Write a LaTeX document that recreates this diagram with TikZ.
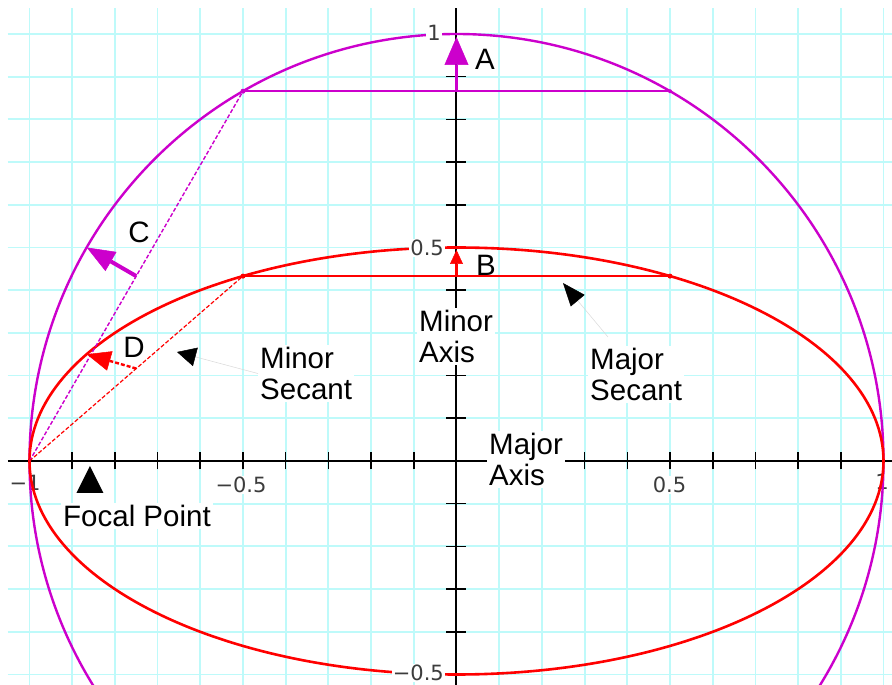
\documentclass[tikz,border=0pt]{standalone}
\usepackage{fontspec}
\setmainfont{Liberation Sans}
\newfontfamily\tickfont{DejaVu Sans}
\usetikzlibrary{arrows.meta}
\definecolor{mag}{RGB}{204,0,204}
\definecolor{gridc}{RGB}{190,250,250}
\definecolor{tickgray}{RGB}{60,60,60}
\begin{document}
\begin{tikzpicture}[x=427pt,y=427pt,
  gridline/.style={draw=gridc,line width=1.8pt},
  axisline/.style={draw=black,line width=2pt},
  tickmark/.style={draw=black,line width=1.6pt},
  ticklab/.style={font=\tickfont\fontsize{21}{21}\selectfont,text=tickgray,fill=white,inner sep=1pt},
  lab/.style={font=\fontsize{29.5}{31}\selectfont,fill=white,inner sep=2pt,align=left},
  letter/.style={font=\fontsize{29.5}{31}\selectfont,inner sep=0pt},
  curvem/.style={draw=mag,line width=2.4pt},
  curver/.style={draw=red,line width=2.6pt},
  chordm/.style={draw=mag,line width=2pt},
  chordr/.style={draw=red,line width=2pt},
  dashm/.style={draw=mag,line width=1.4pt,dash pattern=on 4pt off 2pt},
  dashr/.style={draw=red,line width=1.2pt,dash pattern=on 4pt off 2pt},
  pointer/.style={draw=gray!30,line width=0.5pt}]
\useasboundingbox (-456.5pt,-224pt) rectangle (435.5pt,461pt);
\clip (-456.5pt,-224pt) rectangle (435.5pt,461pt);
\fill[white] (-456.5pt,-224pt) rectangle (435.5pt,461pt);
% grid
\draw[gridline,xstep=42.7pt,ystep=42.7pt] (-448.5pt,-224pt) grid (435.5pt,453pt);
% axes
\draw[axisline] (-448.5pt,0pt) -- (435.5pt,0pt);
\draw[axisline] (0pt,-224pt) -- (0pt,453pt);
\foreach \i in {-10,...,10} {\draw[tickmark] (\i*42.7pt,-8.5pt) -- (\i*42.7pt,8.5pt);}
\foreach \j in {-5,...,10} {\draw[tickmark] (-10pt,\j*42.7pt) -- (10pt,\j*42.7pt);}
% x-axis end labels (under curves)
\node[ticklab] (txm1) at (-431.5pt,-22pt) {−1};
\node[ticklab] (txp1) at (425.5pt,-21pt) {1};
% points
\coordinate (L) at (-1,0);
\coordinate (P1) at (-0.5,0.8660);
\coordinate (P2) at (0.5,0.8660);
\coordinate (Q1) at (-0.5,0.4330);
\coordinate (Q2) at (0.5,0.4330);
\coordinate (Mc) at (-0.75,0.4330);
\coordinate (Cc) at (-0.8660,0.5);
\coordinate (Md) at (-0.75,0.2165);
\coordinate (Dd) at (-0.8660,0.25);
\coordinate (Atail) at (0,0.8660);
\coordinate (Atip) at (0pt,424pt);
\coordinate (Btail) at (0,0.4330);
\coordinate (Btip) at (0pt,211pt);
% curves
\draw[curvem] (0,0) circle[radius=427pt];
\draw[curver] (0,0) ellipse[x radius=427pt,y radius=213.5pt];
\draw[chordm] (P1) -- (P2);
\draw[chordr] (Q1) -- (Q2);
\draw[dashm] (L) -- (P1);
\draw[dashr] (L) -- (Q1);
\fill[mag] (P1) circle[radius=2.5pt];
\fill[mag] (P2) circle[radius=2pt];
\fill[red] (Q1) circle[radius=2.5pt];
\fill[red] (Q2) circle[radius=2.5pt];
% arrows A, B, C, D
\draw[draw=mag,line width=3.8pt,-{Triangle[length=28pt,width=24pt,line width=0.5pt]}] (Atail) -- (Atip);
\draw[draw=red,line width=2.8pt,-{Triangle[length=14pt,width=13pt,line width=0.5pt]}] (Btail) -- (Btip);
\draw[draw=mag,line width=4pt,-{Triangle[length=28pt,width=22pt,line width=0.5pt]}] (Mc) -- (Cc);
\draw[draw=red,line width=2.4pt,dash pattern=on 4pt off 2pt,-{Triangle[length=24pt,width=20pt,line width=0.5pt]}] (Md) -- (Dd);
% letters
\node[letter] (la) at (28.5pt,402pt) {A};
\node[letter] (lb) at (29.5pt,196pt) {B};
\node[letter] (lc) at (-317.5pt,229pt) {C};
\node[letter] (ld) at (-322.5pt,114pt) {D};
% tick labels
\node[ticklab,anchor=east] (ty1) at (-14.5pt,428pt) {1};
\node[ticklab,anchor=east] (ty05) at (-11.5pt,213pt) {0.5};
\node[ticklab,anchor=east] (tym05) at (-11.5pt,-212pt) {−0.5};
\node[ticklab] (txm05) at (-215.5pt,-24pt) {−0.5};
\node[ticklab] (txp05) at (213pt,-24pt) {0.5};
% labels
\node[lab,anchor=north west] (minax) at (-39.5pt,153pt) {Minor\\Axis};
\node[lab,anchor=north west] (majax) at (30.5pt,30pt) {Major\\Axis};
\node[lab,anchor=north west] (majsec) at (131.5pt,115pt) {Major\\Secant};
\node[lab,anchor=north west] (minsec) at (-198.5pt,116pt) {Minor\\Secant};
\node[lab,anchor=north west] (focal) at (-395.5pt,-42pt) {Focal Point};
% focal point marker
\fill[black] (-366.5pt,-5pt) -- (-380pt,-32pt) -- (-353pt,-32pt) -- cycle;
% pointers
\coordinate (majS) at (151.5pt,124pt);
\coordinate (majT) at (106.5pt,178pt);
\draw[pointer,-{Triangle[length=23pt,width=18pt,color=black]}] (majS) -- (majT);
\coordinate (minT) at (-279.5pt,109pt);
\draw[pointer,-{Triangle[length=19pt,width=19pt,color=black]}] (minsec.west) -- (minT);
\end{tikzpicture}
\end{document}
